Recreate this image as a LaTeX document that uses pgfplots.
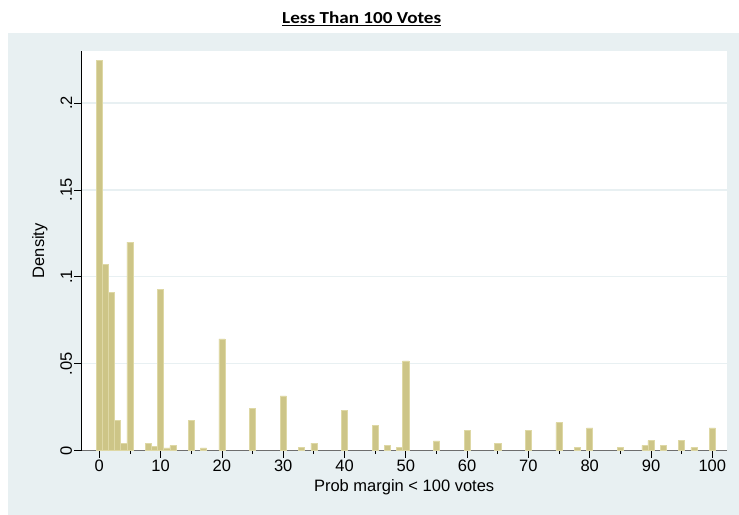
\documentclass[border=0pt]{standalone}
\usepackage{pgfplots}
\pgfplotsset{compat=1.18}
\usepackage{fontspec}
\setmainfont{Liberation Sans}
\newfontfamily\titlefont{Carlito}
\definecolor{panel}{RGB}{232,240,242}
\definecolor{gridc}{RGB}{232,240,242}
\definecolor{barfill}{RGB}{205,197,135}
\definecolor{baredge}{RGB}{222,216,165}
\definecolor{xaxisc}{RGB}{110,110,110}
\begin{document}
\begin{tikzpicture}[x=1bp,y=1bp]
\useasboundingbox (-81.3,-64.3) rectangle (657.7,450.7);
\fill[panel] (-73.3,-64.3) rectangle (657.7,417.7);
\node[anchor=base, xscale=1.14, inner sep=0pt, font=\titlefont\bfseries\fontsize{16.8bp}{19bp}\selectfont] at (280.4,427.4) {\underline{Less Than 100 Votes}};
\begin{axis}[
  at={(0,0)}, anchor=south west,
  scale only axis,
  width=645.7bp, height=400bp,
  xmin=-2.94, xmax=102.4,
  ymin=0, ymax=0.2301,
  axis background/.style={fill=white},
  axis x line*=bottom, axis y line*=left,
  axis line style={-},
  x axis line style={draw=xaxisc, line width=0.8bp},
  y axis line style={draw=black, line width=0.8bp},
  tick align=outside,
  major tick length=7bp, minor tick length=3.5bp,
  every tick/.style={black, line width=0.8bp},
  xtick={0,10,...,100},
  minor xtick={5,15,...,95},
  xticklabels={0,10,20,30,40,50,60,70,80,90,100},
  ytick={0,0.05,0.1,0.15,0.2},
  yticklabels={0,.05,.1,.15,.2},
  yticklabel style={rotate=90, anchor=south, inner sep=2bp},
  xticklabel style={inner sep=2bp},
  tick label style={font=\fontsize{16.5bp}{19bp}\selectfont},
  label style={font=\fontsize{16.5bp}{19bp}\selectfont},
  ymajorgrids, grid style={draw=gridc, line width=1.2bp},
  xlabel={Prob margin < 100 votes},
  ylabel={Density},
  xlabel style={at={(axis description cs:0.5,-0.0908)}, anchor=center},
  ylabel style={at={(axis description cs:-0.064,0.5)}, anchor=center},
  clip=false,
]
\addplot[ybar, bar width=1, fill=barfill, draw=baredge, line width=0.6bp] coordinates {
(0,0.2244) (1,0.107) (2,0.0911) (3,0.0173) (4,0.0043) (5,0.120)
(8,0.0043) (9,0.0027) (10,0.0929) (11,0.0016) (12,0.0029) (15,0.0173)
(17,0.0016) (20,0.0643) (25,0.0242) (30,0.0315) (33,0.0017) (35,0.0044)
(40,0.023) (45,0.0144) (47,0.0029) (49,0.0017) (50,0.0516) (55,0.0056)
(60,0.0117) (65,0.0044) (70,0.0117) (75,0.0161) (78,0.0017) (80,0.0131)
(85,0.0017) (89,0.0031) (90,0.0058) (92,0.0031) (95,0.0058) (97,0.0017)
(100,0.0131)
};
\end{axis}
\end{tikzpicture}
\end{document}
